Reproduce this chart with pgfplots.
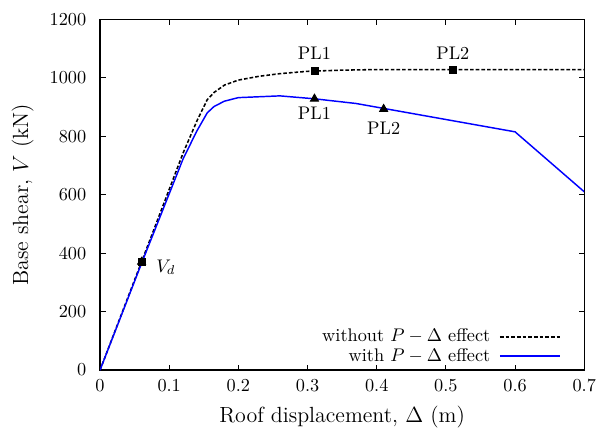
\documentclass[border=0pt]{standalone}
\usepackage{pgfplots}
\pgfplotsset{compat=1.18}
\begin{document}
\begin{tikzpicture}
\begin{axis}[
  scale only axis,width=265pt,height=192pt,
  xmin=0,xmax=0.7,ymin=0,ymax=1200,
  xtick={0,0.1,0.2,0.3,0.4,0.5,0.6,0.7},
  ytick={0,200,400,600,800,1000,1200},
  xticklabel style={/pgf/number format/fixed,/pgf/number format/precision=1,yshift=-2pt},
  yticklabel style={/pgf/number format/fixed,/pgf/number format/1000 sep={},xshift=-4pt},
  scaled x ticks=false,
  tick align=inside,major tick length=3pt,
  axis line style={line width=0.7pt},
  tick style={line width=0.6pt,black},
  xlabel={\large Roof displacement, $\Delta$ (m)},
  ylabel={\large Base shear, $V$ (kN)},
  xlabel style={yshift=-1pt},
  ylabel style={yshift=2pt},
  legend style={draw=none,fill=none,at={(0.963,-0.004)},anchor=south east,
    legend cell align=right,row sep=-2pt},
  legend plot pos=right,
  legend image code/.code={\path (0cm,0cm); \draw[#1] (0.1cm,0cm) -- (1.25cm,0cm);},
]
\addplot[black,line width=0.85pt,dash pattern=on 2pt off 1.1pt] coordinates {
  (0,0) (0.06,370) (0.12,742) (0.14,852) (0.155,925) (0.165,950) (0.18,975)
  (0.2,992) (0.23,1005) (0.26,1014) (0.3,1022) (0.35,1026) (0.4,1028) (0.7,1028)};
\addlegendentry{without $P-\Delta$ effect}
\addplot[blue,line width=0.8pt] coordinates {
  (0,0) (0.06,365) (0.12,722) (0.14,818) (0.155,880) (0.165,902) (0.18,920)
  (0.2,932) (0.26,938) (0.31,928) (0.37,912) (0.6,815) (0.7,610)};
\addlegendentry{with $P-\Delta$ effect}
\addplot[only marks,mark=square*,mark size=1.9pt,black,forget plot] coordinates {
  (0.06,370) (0.31,1025) (0.51,1028)};
\addplot[only marks,mark=triangle*,mark size=2.6pt,black,forget plot] coordinates {
  (0.06,370) (0.31,928) (0.41,893)};
\node at (axis cs:0.31,1083) {PL1};
\node at (axis cs:0.51,1083) {PL2};
\node at (axis cs:0.31,878) {PL1};
\node at (axis cs:0.41,826) {PL2};
\node[anchor=west] at (axis cs:0.072,352) {$V_d$};
\end{axis}
\path (current axis.outer north) ++(0,4pt);
\path (current axis.outer west) ++(-3pt,0);
\end{tikzpicture}
\end{document}
